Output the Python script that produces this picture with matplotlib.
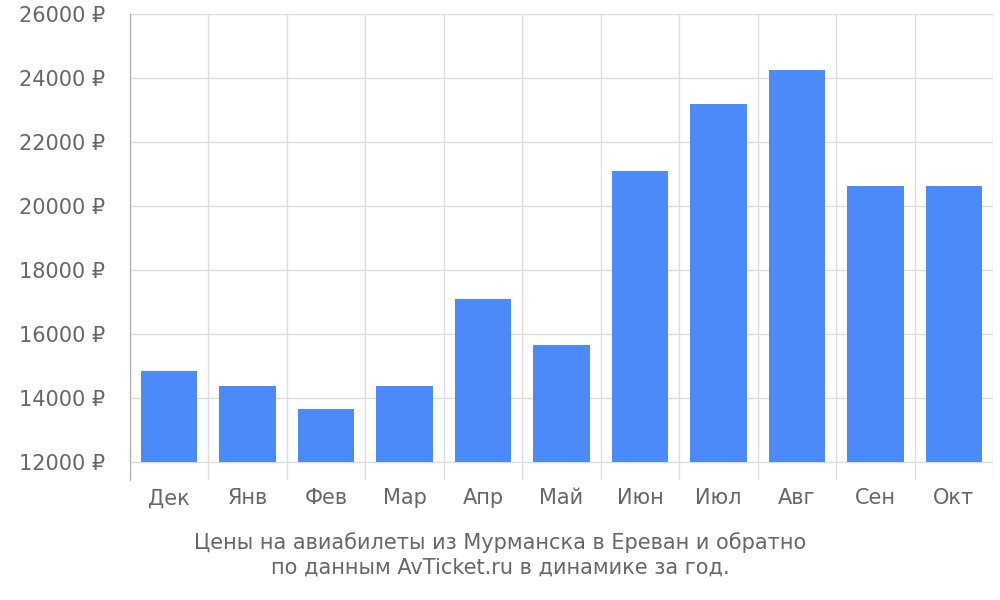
import matplotlib
matplotlib.use("Agg")
import matplotlib.pyplot as plt
import numpy as np

months = ["Дек","Янв","Фев","Мар","Апр","Май","Июн","Июл","Авг","Сен","Окт"]
prices = [14850,14380,13650,14380,17080,15650,21080,23180,24230,20630,20630]
yticks = list(range(12000, 26001, 2000))

fig = plt.figure(figsize=(10,6), dpi=100)
ax = fig.add_axes([0.13, 0.2, 0.863, 0.777])
x = np.arange(len(months))
base = 12000
ax.bar(x, [p-base for p in prices], bottom=base, width=0.72, color="#4d8af9", zorder=3)
ax.set_xlim(-0.5, len(months)-0.5)
ax.set_ylim(11437, 26000)
ax.set_yticks(yticks)
ax.set_yticklabels([f"{v} ₽" for v in yticks], fontsize=15, color="#666666")
ax.set_xticks(x)
ax.set_xticklabels(months, fontsize=15, color="#666666")
ax.tick_params(axis="x", length=0, pad=6)
ax.tick_params(axis="y", length=0, pad=18)
for v in yticks:
    ax.axhline(v, color="#dddddd", lw=1, zorder=1)
for b in np.arange(-0.5, len(months), 1.0):
    ax.axvline(b, color="#dddddd", lw=1, zorder=1)
for s in ["top","right","bottom"]:
    ax.spines[s].set_visible(False)
ax.spines["left"].set_color("#aaaaaa")
fig.text(0.5, 0.075, "Цены на авиабилеты из Мурманска в Ереван и обратно\nпо данным AvTicket.ru в динамике за год.",
         ha="center", va="center", fontsize=15, color="#666666", linespacing=1.3)
fig.savefig("out.png")
